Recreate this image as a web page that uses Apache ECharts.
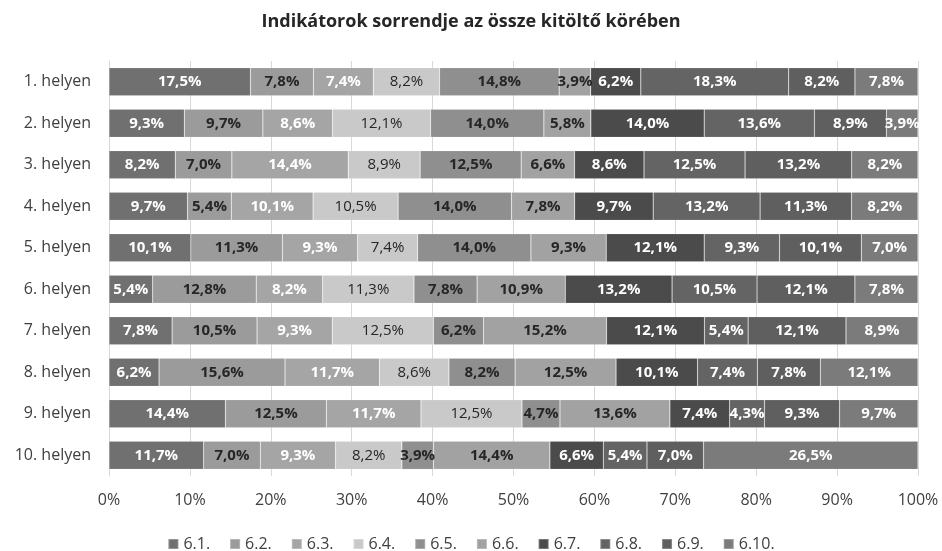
<!DOCTYPE html>
<html>
<head>
<meta charset="utf-8">
<script src="https://cdn.jsdelivr.net/npm/echarts@6/dist/echarts.min.js"></script>
<style>
  html, body { margin: 0; padding: 0; background: #fff; }
  #chart { width: 942px; height: 551px; }
</style>
</head>
<body>
<div id="chart"></div>
<script>
// rows of the chart (top to bottom)
const categories = ["1. helyen", "2. helyen", "3. helyen", "4. helyen", "5. helyen",
  "6. helyen", "7. helyen", "8. helyen", "9. helyen", "10. helyen"];

const seriesNames = ["6.1.", "6.2.", "6.3.", "6.4.", "6.5.", "6.6.", "6.7.", "6.8.", "6.9.", "6.10."];

// percentages per indicator, one value per row
const s61 = [17.5, 9.3, 8.2, 9.7, 10.1, 5.4, 7.8, 6.2, 14.4, 11.7];
const s62 = [7.8, 9.7, 7.0, 5.4, 11.3, 12.8, 10.5, 15.6, 12.5, 7.0];
const s63 = [7.4, 8.6, 14.4, 10.1, 9.3, 8.2, 9.3, 11.7, 11.7, 9.3];
const s64 = [8.2, 12.1, 8.9, 10.5, 7.4, 11.3, 12.5, 8.6, 12.5, 8.2];
const s65 = [14.8, 14.0, 12.5, 14.0, 14.0, 7.8, 6.2, 8.2, 4.7, 3.9];
const s66 = [3.9, 5.8, 6.6, 7.8, 9.3, 10.9, 15.2, 12.5, 13.6, 14.4];
const s67 = [6.2, 14.0, 8.6, 9.7, 12.1, 13.2, 12.1, 10.1, 7.4, 6.6];
const s68 = [18.3, 13.6, 12.5, 13.2, 9.3, 10.5, 5.4, 7.4, 4.3, 5.4];
const s69 = [8.2, 8.9, 13.2, 11.3, 10.1, 12.1, 12.1, 7.8, 9.3, 7.0];
const s610 = [7.8, 3.9, 8.2, 8.2, 7.0, 7.8, 8.9, 12.1, 9.7, 26.5];

const xTicks = [0, 10, 20, 30, 40, 50, 60, 70, 80, 90, 100];

const allValues = [s61, s62, s63, s64, s65, s66, s67, s68, s69, s610];

const colors = ["#707070", "#9b9b9b", "#a5a5a5", "#c9c9c9", "#8f8f8f",
  "#a2a2a2", "#4b4b4b", "#646464", "#5f5f5f", "#7b7b7b"];
const labelColors = ["#fff", "#262626", "#fff", "#262626", "#262626",
  "#262626", "#fff", "#fff", "#fff", "#fff"];
const labelBold = [true, true, true, false, true, true, true, true, true, true];

// 100% stacked: each row is scaled to its own total
const rowTotals = categories.map((_, i) => allValues.reduce((s, arr) => s + arr[i], 0));

const FONT = "Open Sans";

const series = seriesNames.map((name, k) => ({
  name: name,
  type: "bar",
  stack: "total",
  barCategoryGap: "32%",
  itemStyle: { color: colors[k], borderColor: "rgba(255,255,255,0.25)", borderWidth: 0.6 },
  label: {
    show: true,
    position: "inside",
    color: labelColors[k],
    fontFamily: FONT,
    fontSize: 15,
    fontWeight: labelBold[k] ? "bold" : "normal",
    formatter: p => p.data.raw.toFixed(1).replace(".", ",") + "%",
  },
  emphasis: { disabled: true },
  data: allValues[k].map((v, i) => ({ value: v / rowTotals[i] * 100, raw: v })),
}));

const chart = echarts.init(document.getElementById("chart"), null, { renderer: "canvas" });

chart.setOption({
  animation: false,
  backgroundColor: "#fff",
  color: colors,
  title: {
    text: "Indikátorok sorrendje az össze kitöltő körében",
    left: "center",
    top: 8,
    textStyle: { fontFamily: FONT, fontSize: 18, fontWeight: "bold", color: "#262626" },
  },
  legend: {
    data: seriesNames,
    top: 531,
    left: "center",
    itemWidth: 10,
    itemHeight: 10,
    itemGap: 19,
    icon: "rect",
    textStyle: { fontFamily: FONT, fontSize: 16, color: "#404040" },
  },
  grid: { left: 109, right: 24, top: 61, bottom: 75, containLabel: false },
  xAxis: {
    type: "value",
    min: xTicks[0],
    max: xTicks[xTicks.length - 1],
    interval: 10,
    axisLine: { show: false },
    axisTick: { show: false },
    splitLine: { show: true, lineStyle: { color: "#d9d9d9", width: 1 } },
    axisLabel: {
      margin: 16,
      fontFamily: FONT,
      fontSize: 16,
      color: "#404040",
      formatter: v => v + "%",
    },
  },
  yAxis: {
    type: "category",
    data: categories,
    inverse: true,
    axisLine: { show: true, lineStyle: { color: "#d9d9d9" } },
    axisTick: { show: false },
    axisLabel: { margin: 18, fontFamily: FONT, fontSize: 16, color: "#404040" },
  },
  series: series,
});
</script>
</body>
</html>
